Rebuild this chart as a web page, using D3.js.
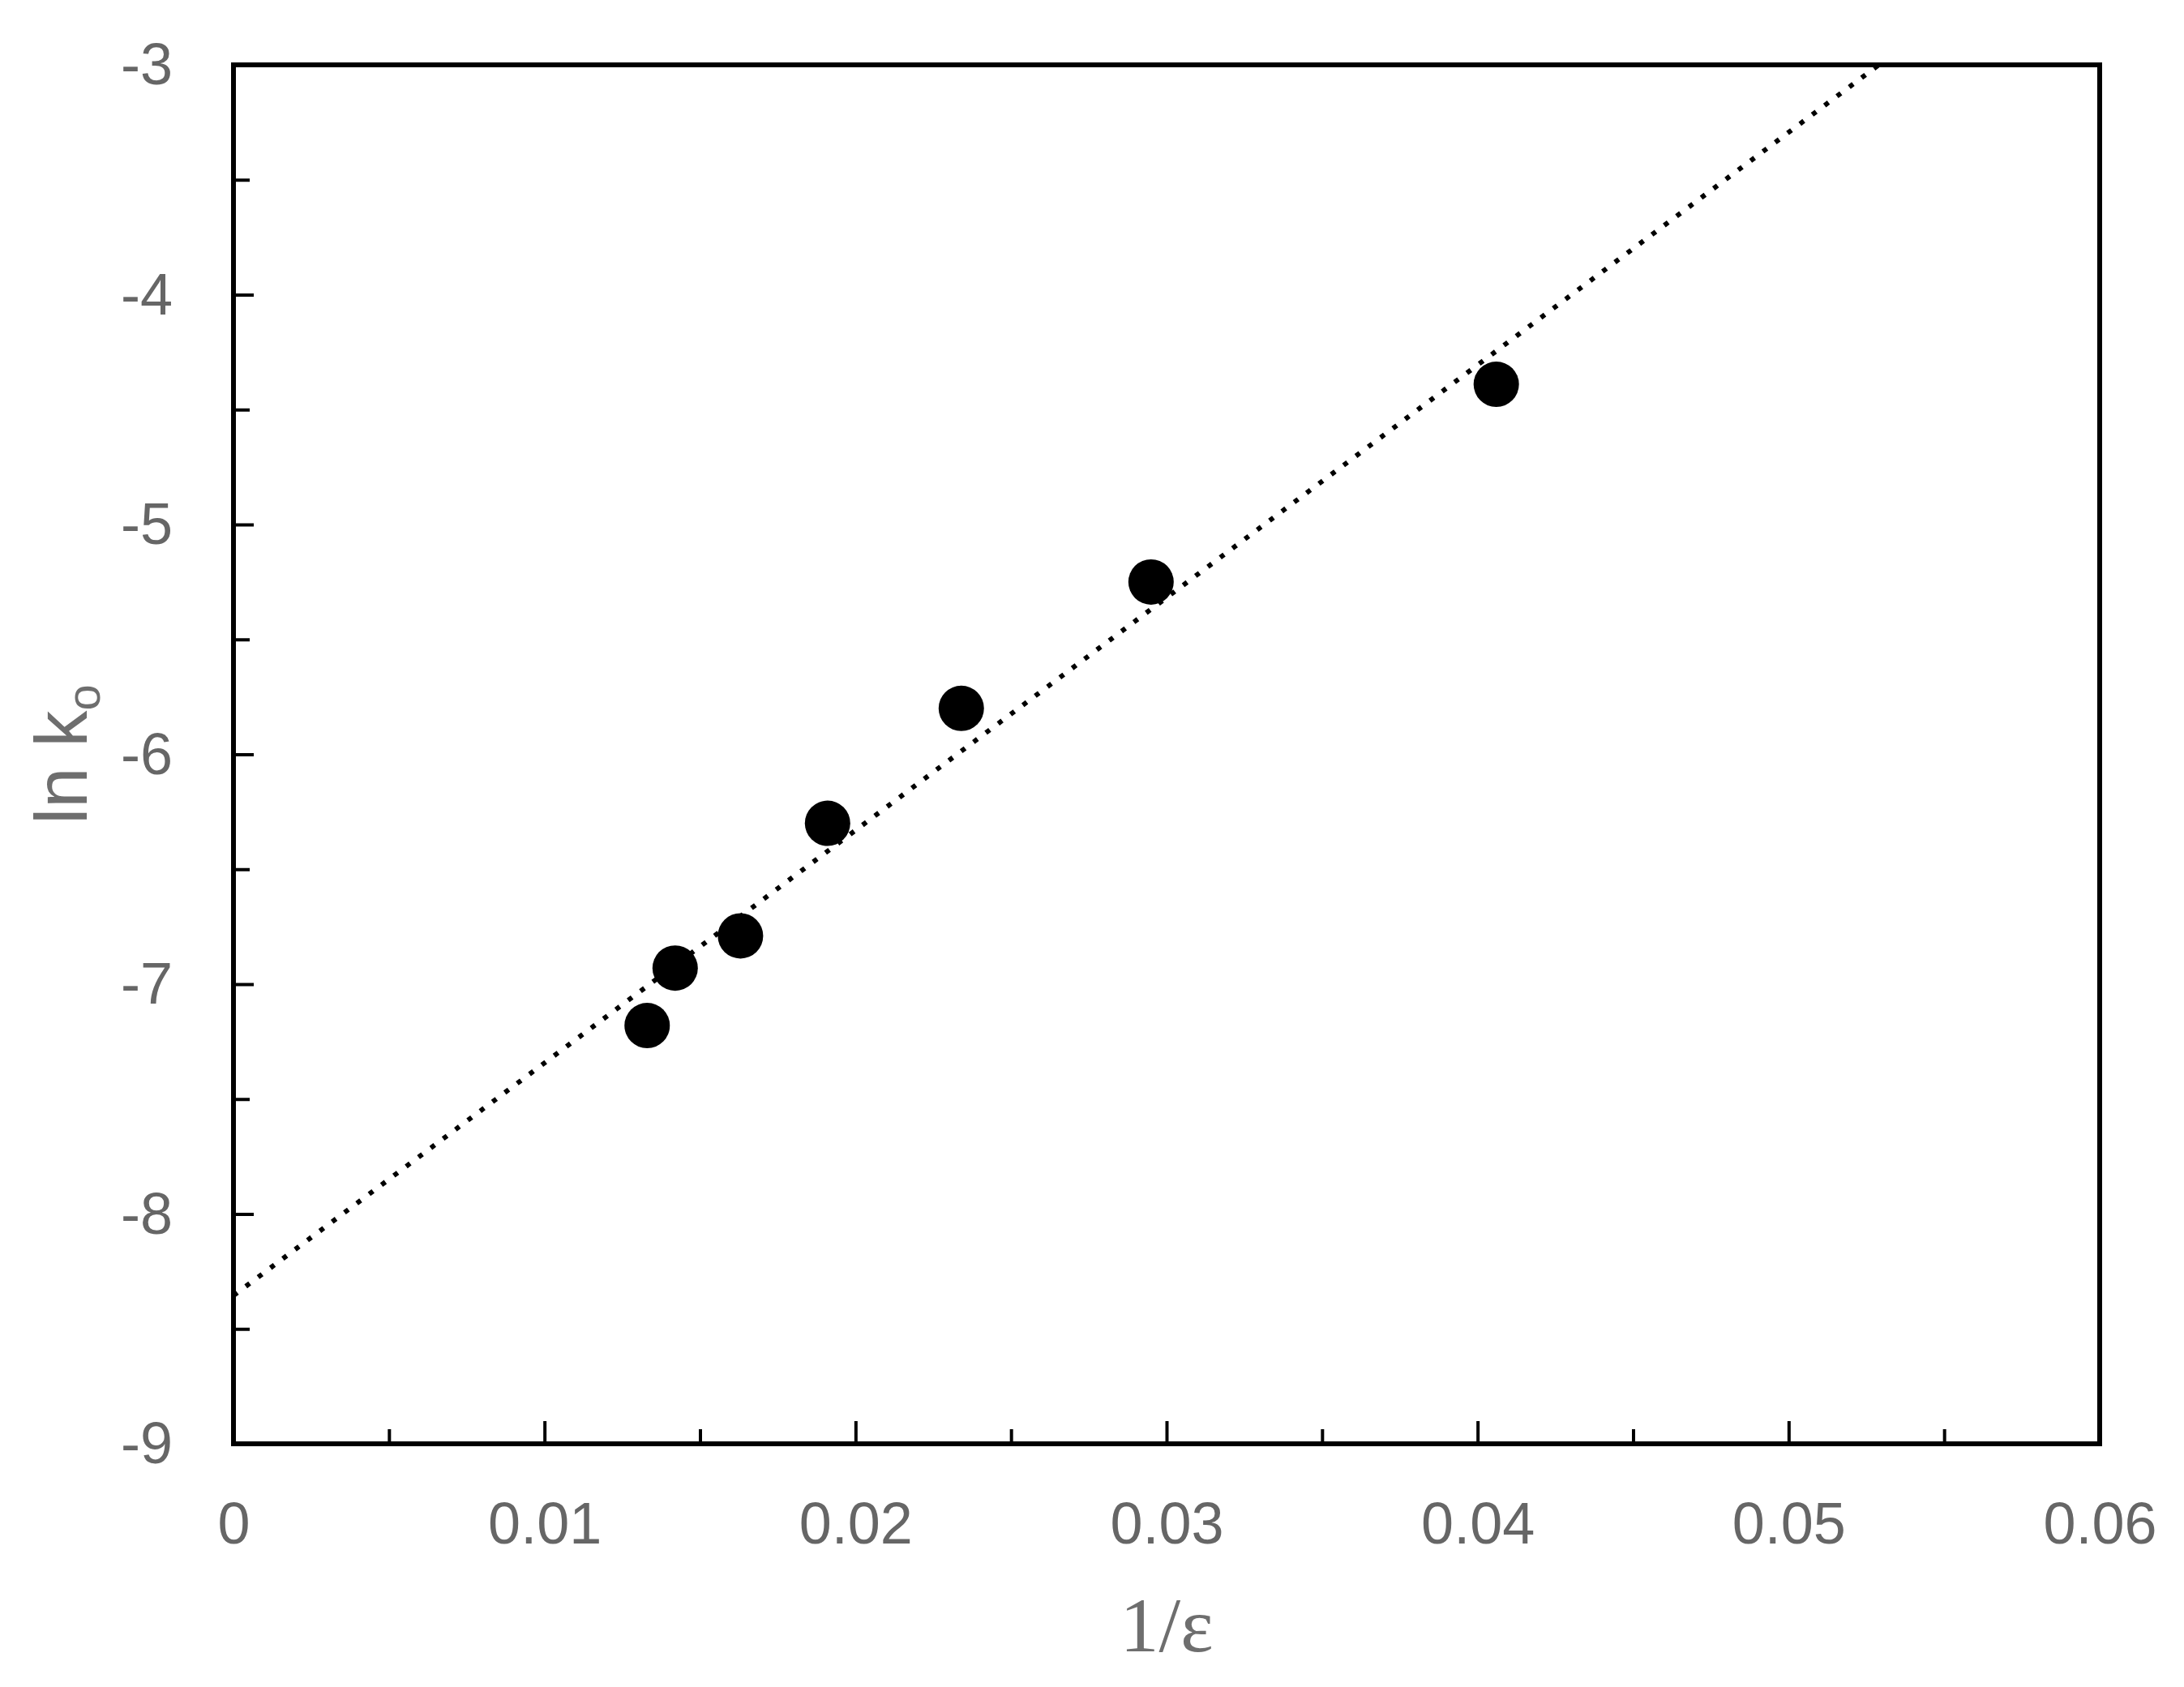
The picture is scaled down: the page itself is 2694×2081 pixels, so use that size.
<!DOCTYPE html>
<html>
<head>
<meta charset="utf-8">
<script src="https://cdn.jsdelivr.net/npm/d3@7"></script>
<style>
  body { margin: 0; background: #fff; }
  text { font-family: "Liberation Sans", Arial, sans-serif; fill: #666; }
</style>
</head>
<body>
<div id="chart"></div>
<script>
// measured points (1/eps, ln k_o)
const invEps = [0.0133, 0.0142, 0.0163, 0.0191, 0.0234, 0.0295, 0.0406];
const lnK = [-7.18, -6.93, -6.79, -6.30, -5.80, -5.25, -4.39];

// dotted trend line
const fitX = [0, 0.0529];
const fitY = [-8.355, -3];

const xTicks = [0, 0.01, 0.02, 0.03, 0.04, 0.05, 0.06];
const yTicks = [-9, -8, -7, -6, -5, -4, -3];

const W = 2694, H = 2081;
const margin = {top: 80, right: 104, bottom: 300, left: 288};
const width = W - margin.left - margin.right;
const height = H - margin.top - margin.bottom;

const svg = d3.select("#chart").append("svg")
    .attr("width", W)
    .attr("height", H);

const g = svg.append("g")
    .attr("transform", "translate(" + margin.left + "," + margin.top + ")");

const x = d3.scaleLinear().domain([0, 0.06]).range([0, width]);
const y = d3.scaleLinear().domain([-9, -3]).range([height, 0]);

// plain hyphen for negatives, like the original
const fmt = d => String(d);

g.append("clipPath").attr("id", "clip")
    .append("rect").attr("width", width).attr("height", height);

// minor ticks (half steps), pointing inward
const xMinor = d3.range(0.005, 0.06, 0.01);
const yMinor = d3.range(-8.5, -3, 1);

g.append("g")
    .attr("transform", "translate(0," + height + ")")
    .call(d3.axisTop(x).tickValues(xMinor).tickSize(18).tickFormat(""))
    .call(a => a.select(".domain").remove())
    .selectAll("line").attr("stroke", "#000").attr("stroke-width", 4);

g.append("g")
    .call(d3.axisRight(y).tickValues(yMinor).tickSize(20).tickFormat(""))
    .call(a => a.select(".domain").remove())
    .selectAll("line").attr("stroke", "#000").attr("stroke-width", 4);

// major ticks
const xAxis = g.append("g")
    .attr("transform", "translate(0," + height + ")")
    .call(d3.axisTop(x).tickValues(xTicks).tickSize(28).tickFormat(fmt));
xAxis.select(".domain").remove();
xAxis.selectAll("line").attr("stroke", "#000").attr("stroke-width", 4);
xAxis.selectAll("text")
    .attr("y", 123).attr("dy", 0)
    .attr("font-size", 72)
    .style("fill", "#666");

const yAxis = g.append("g")
    .call(d3.axisRight(y).tickValues(yTicks).tickSize(25).tickFormat(fmt));
yAxis.select(".domain").remove();
yAxis.selectAll("line").attr("stroke", "#000").attr("stroke-width", 4);
yAxis.selectAll("text")
    .attr("x", -75).attr("dy", "0.33em")
    .attr("text-anchor", "end")
    .attr("font-size", 72)
    .style("fill", "#666");

// the dotted line
const line = d3.line().x(d => x(d[0])).y(d => y(d[1]));
g.append("path")
    .datum(d3.zip(fitX, fitY))
    .attr("clip-path", "url(#clip)")
    .attr("d", line)
    .attr("fill", "none")
    .attr("stroke", "#000")
    .attr("stroke-width", 6)
    .attr("stroke-dasharray", "6 13");

// points
g.selectAll(".pt")
    .data(d3.zip(invEps, lnK))
    .enter().append("circle")
    .attr("class", "pt")
    .attr("cx", d => x(d[0]))
    .attr("cy", d => y(d[1]))
    .attr("r", 28)
    .attr("fill", "#000");

// frame
g.append("rect")
    .attr("width", width)
    .attr("height", height)
    .attr("fill", "none")
    .attr("stroke", "#000")
    .attr("stroke-width", 6);

// axis titles
svg.append("text")
    .attr("x", margin.left + width / 2)
    .attr("y", 2037)
    .attr("text-anchor", "middle")
    .attr("font-size", 96)
    .style("font-family", "'Liberation Serif', 'Times New Roman', serif")
    .style("fill", "#6e6e6e")
    .text("1/ε");

const yt = svg.append("text")
    .attr("transform", "translate(107," + (margin.top + height / 2) + ") rotate(-90)")
    .attr("text-anchor", "middle")
    .attr("font-size", 90)
    .style("fill", "#6e6e6e");
yt.append("tspan").text("ln k");
yt.append("tspan").attr("dy", 16).attr("font-size", 58).text("o");
</script>
</body>
</html>
